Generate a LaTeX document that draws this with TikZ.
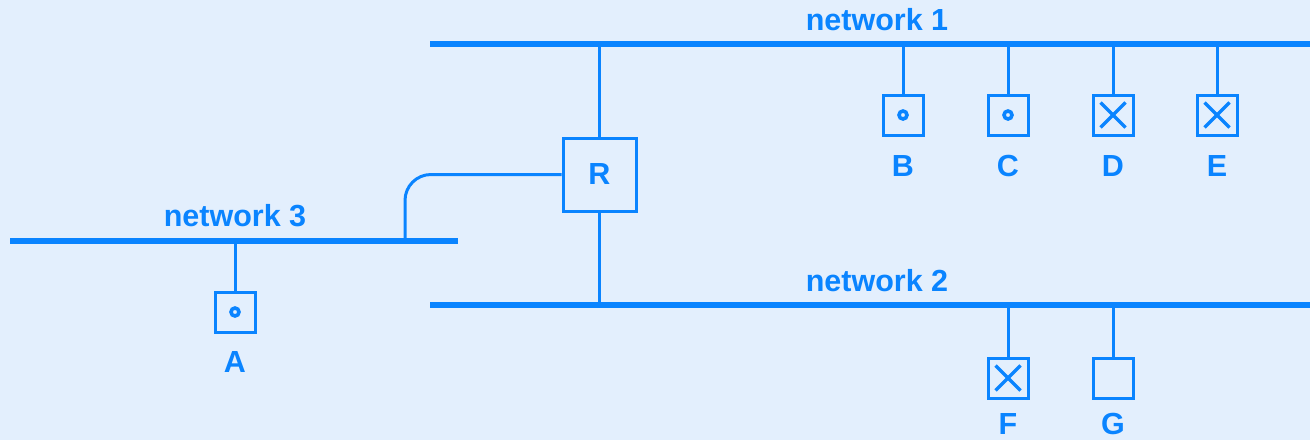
\documentclass[tikz,border=0pt]{standalone}
\usepackage{fontspec}
\setmainfont{Liberation Sans}
\definecolor{bg}{HTML}{E3EFFD}
\definecolor{ln}{HTML}{0A84FF}
\begin{document}
\begin{tikzpicture}[x=1pt,y=-1pt,
  net/.style={line width=5.5pt,draw=ln},
  wire/.style={line width=3pt,draw=ln},
  host/.style={draw=ln,line width=3pt,minimum size=40pt,inner sep=0pt,fill=bg},
  hostdot/.style={host,path picture={\draw[ln,line width=3.6pt] (path picture bounding box.center) circle (4pt);}},
  hostx/.style={host,path picture={
     \draw[ln,line width=3.4pt] ([shift={(7.5pt,-7.5pt)}]path picture bounding box.north west) -- ([shift={(-7.5pt,7.5pt)}]path picture bounding box.south east);
     \draw[ln,line width=3.4pt] ([shift={(-7.5pt,-7.5pt)}]path picture bounding box.north east) -- ([shift={(7.5pt,7.5pt)}]path picture bounding box.south west);}},
  lbl/.style={text=ln,font=\bfseries\fontsize{30.5}{32}\selectfont,inner sep=0pt},
  netlbl/.style={lbl}]
\fill[bg] (0,0) rectangle (1310,440);
\useasboundingbox (0,0) rectangle (1310,440);
% networks
\coordinate (n1a) at (430,44); \coordinate (n1b) at (1310,44);
\coordinate (n2a) at (430,305); \coordinate (n2b) at (1310,305);
\coordinate (n3a) at (10,241); \coordinate (n3b) at (458,241);
\draw[net] (n1a) -- (n1b);
\draw[net] (n2a) -- (n2b);
\draw[net] (n3a) -- (n3b);
\node[netlbl] (l1) at (877,20) {network 1};
\node[netlbl] (l2) at (877,281) {network 2};
\node[netlbl] (l3) at (235,216) {network 3};
% router
\node[host,minimum size=73pt] (R) at (599.5,174.5) {};
\node[lbl] (Rl) at (R.center) {R};
\coordinate (r1) at (599.5,44);
\coordinate (r2) at (599.5,305);
\coordinate (r3) at (405,241);
\draw[wire] (R.north) -- (r1);
\draw[wire] (R.south) -- (r2);
\draw[wire] (R.west) -- (431,174.5) arc[start angle=270,end angle=180,radius=26] -- (r3);
% hosts network 1
\node[hostdot] (B) at (903,115) {};
\node[hostdot] (C) at (1008,115) {};
\node[hostx] (D) at (1113,115) {};
\node[hostx] (E) at (1217,115) {};
\foreach \h in {B,C,D,E}{
  \coordinate (t\h) at (\h |- n1a);
  \draw[wire] (t\h) -- (\h.north);
}
\node[lbl] (Bl) at (903,166) {B};
\node[lbl] (Cl) at (1008,166) {C};
\node[lbl] (Dl) at (1113,166) {D};
\node[lbl] (El) at (1217,166) {E};
% network 2 hosts
\node[hostx] (F) at (1008,378) {};
\node[host] (G) at (1113,378) {};
\foreach \h in {F,G}{
  \coordinate (t\h) at (\h |- n2a);
  \draw[wire] (t\h) -- (\h.north);
}
\node[lbl] (Fl) at (1008,424) {F};
\node[lbl] (Gl) at (1113,424) {G};
% network 3 host
\node[hostdot] (A) at (235,312) {};
\coordinate (tA) at (A |- n3a);
\draw[wire] (tA) -- (A.north);
\node[lbl] (Al) at (235,362) {A};
\end{tikzpicture}
\end{document}
